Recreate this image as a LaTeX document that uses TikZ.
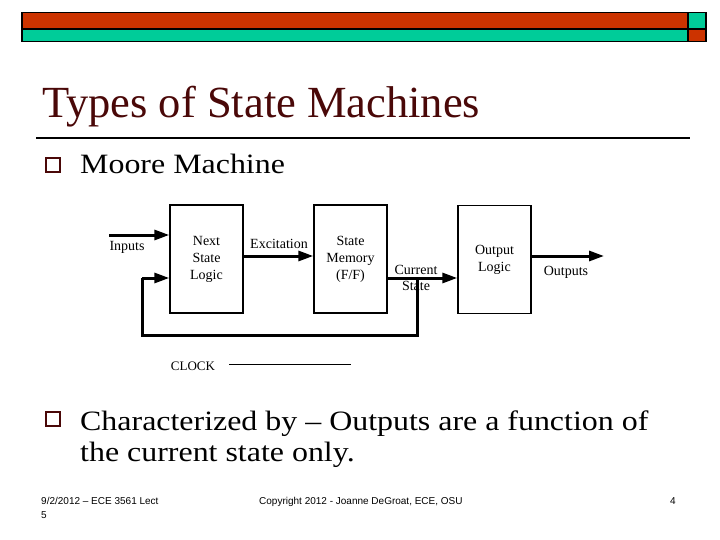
\documentclass[tikz,border=0pt]{standalone}
\usepackage{fontspec}
\setmainfont{Liberation Serif}
\newfontfamily\bodyfont[FakeStretch=1.14]{Liberation Serif}
\newfontfamily\footfont{Liberation Sans}
\usetikzlibrary{arrows.meta}
\definecolor{barred}{HTML}{CC3300}
\definecolor{barteal}{HTML}{00CC99}
\definecolor{titlered}{HTML}{4A0808}
\tikzset{
  blk/.style={draw, line width=1.4pt, minimum width=73pt, minimum height=108pt, inner sep=0pt, align=center, font=\fontsize{14}{17}\selectfont},
  lbl/.style={inner sep=0pt, align=center, font=\fontsize{14}{16}\selectfont},
  thick arr/.style={line width=3pt, -{Triangle[length=15pt,width=10pt]}},
  thick line/.style={line width=3pt},
  bullet box/.style={draw=titlered, line width=1.8pt},
  bodytext/.style={anchor=base west, inner sep=0pt, font=\bodyfont\fontsize{28}{32}\selectfont},
  foottext/.style={anchor=base west, inner sep=0pt, font=\footfont\fontsize{10}{13}\selectfont}
}
\begin{document}
\begin{tikzpicture}[x=1pt, y=-1pt]
\useasboundingbox (0,0) rectangle (720,540);
\fill[white] (0,0) rectangle (720,540);
% top bars
\fill[barred] (22,12.5) rectangle (688,29);
\fill[barteal] (688,12.5) rectangle (706,29);
\fill[barteal] (22,29) rectangle (688,41.5);
\fill[barred] (688,29) rectangle (706,41.5);
\draw[line width=1.3pt] (22,12.5) rectangle (706,41.5);
\draw[line width=1.3pt] (22,29) -- (706,29);
\draw[line width=1.3pt] (688,12.5) -- (688,41.5);
% title
\node[anchor=base west, inner sep=0pt, text=titlered, font=\fontsize{44.5}{50}\selectfont] (title) at (42,117.5) {Types of State Machines};
\draw[line width=2pt] (36,138) -- (690,138);
% bullets
\draw[bullet box] (46,158) rectangle (60,172);
\node[bodytext] (b1) at (80,174) {Moore Machine};
\draw[bullet box] (46,412) rectangle (60,426);
\node[bodytext] (b2) at (80,430) {Characterized by – Outputs are a function of};
\node[bodytext] (b3) at (80,461) {the current state only.};
% diagram
\node[blk] (nsl) at (206.5,259) {Next\\State\\Logic};
\node[blk] (mem) at (350.5,259) {State\\Memory\\(F/F)};
\node[blk] (outl) at (494.5,259.5) {Output\\Logic};
\node[lbl] (inlbl) at (127,247) {Inputs};
\node[lbl] (exlbl) at (279,244) {Excitation};
\node[lbl] (cslbl) at (416,278) {Current\\State};
\node[lbl] (outlbl) at (566,272) {Outputs};
\coordinate (inA) at (109,235);
\coordinate (fbA) at (142,278);
\coordinate (fbB) at (142,335);
\coordinate (j) at (417,278);
\coordinate (fbC) at (417,335);
\coordinate (exA) at (243,256);
\coordinate (outA) at (531,256);
\coordinate (outB) at (604,256);
\draw[thick arr] (inA) -- (inA -| nsl.west);
\draw[thick arr] (exA) -- (exA -| mem.west);
\draw[thick arr] (j -| mem.east) -- (j -| outl.west);
\draw[thick line] (j) -- (fbC) -- (fbB) -- (fbA);
\draw[thick arr] (fbA) -- (fbA -| nsl.west);
\draw[thick arr] (outA) -- (outB);
% clock
\node[lbl, font=\fontsize{13}{15}\selectfont] (clk) at (193,366) {CLOCK};
\coordinate (ckA) at (229,364);
\coordinate (ckB) at (351,364);
\draw[line width=0.9pt] (ckA) -- (ckB);
% footer
\node[foottext] (f1) at (41,504) {9/2/2012 – ECE 3561 Lect};
\node[foottext] (f2) at (41,518) {5};
\node[foottext] (f3) at (259,504) {Copyright 2012 - Joanne DeGroat, ECE, OSU};
\node[foottext] (f4) at (670,504) {4};
\end{tikzpicture}
\end{document}
